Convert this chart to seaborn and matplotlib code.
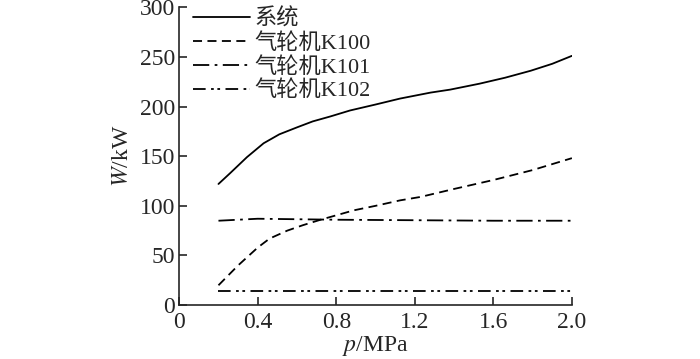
import numpy as np
import pandas as pd
import matplotlib
matplotlib.use("Agg")
import matplotlib.pyplot as plt
import seaborn as sns

# system total power
p_sys = [0.2, 0.26, 0.345, 0.43, 0.51, 0.6, 0.68, 0.77, 0.87, 1.0, 1.125, 1.28,
         1.38, 1.53, 1.66, 1.79, 1.9, 2.0]
w_sys = [122, 133, 149, 163, 172, 179, 185, 190, 196, 202, 208, 214,
         217, 223, 229, 236, 243, 251]

# turbine K100
p_k100 = [0.2, 0.3, 0.4, 0.46, 0.55, 0.63, 0.72, 0.89, 1.0, 1.125, 1.23, 1.4,
          1.6, 1.8, 2.0]
w_k100 = [20, 40, 58, 67, 75, 80.5, 86, 95.5, 100, 105.5, 109, 117,
          126, 136, 148]

# turbines K101, K102
p_k = [0.2, 0.4, 0.8, 1.2, 1.6, 2.0]
w_k101 = [85, 87, 86, 85.5, 85, 85]
w_k102 = [14, 14, 14, 14, 14, 14]

labels = ["系统", "气轮机K100", "气轮机K101", "气轮机K102"]
styles = ["-", (0, (5, 3)), (0, (9, 3, 1.5, 3)), (0, (7, 3, 1.5, 2, 1.5, 3))]

sns.set_style("ticks")
plt.rcParams["font.family"] = ["Liberation Serif", "Noto Sans CJK SC"]
plt.rcParams["mathtext.fontset"] = "stix"

fig = plt.figure(figsize=(7, 3.59), dpi=100)
ax = fig.add_axes([0.256, 0.150, 0.561, 0.830])

series = [(p_sys, w_sys), (p_k100, w_k100), (p_k, w_k101), (p_k, w_k102)]
for (x, y), lab, ls in zip(series, labels, styles):
    df = pd.DataFrame({"p": x, "W": y})
    sns.lineplot(data=df, x="p", y="W", ax=ax, color="black", lw=1.3,
                 linestyle=ls, label=lab)

ax.set_xlim(0, 2.0)
ax.set_ylim(0, 300)
ax.set_xticks([0, 0.4, 0.8, 1.2, 1.6, 2.0])
ax.set_xticklabels(["0", "0.4", "0.8", "1.2", "1.6", "2.0"])
ax.set_yticks(range(0, 301, 50))
ax.tick_params(direction="in", length=6, width=1.2, labelsize=17)
ax.tick_params(axis="x", pad=5)
ax.tick_params(axis="y", pad=3)
for s in ["top", "right"]:
    ax.spines[s].set_visible(False)
for s in ["left", "bottom"]:
    ax.spines[s].set_linewidth(1.2)
ax.set_xlabel("$p$/MPa", fontsize=17, labelpad=1)
ax.set_ylabel("$W$/kW", fontsize=17, labelpad=5)

ax.legend(loc="upper left", bbox_to_anchor=(0.0, 1.04), frameon=False,
          fontsize=16, handlelength=2.6, labelspacing=0.14, handletextpad=0.2,
          borderaxespad=0.2)

fig.savefig("out.png", dpi=100)
